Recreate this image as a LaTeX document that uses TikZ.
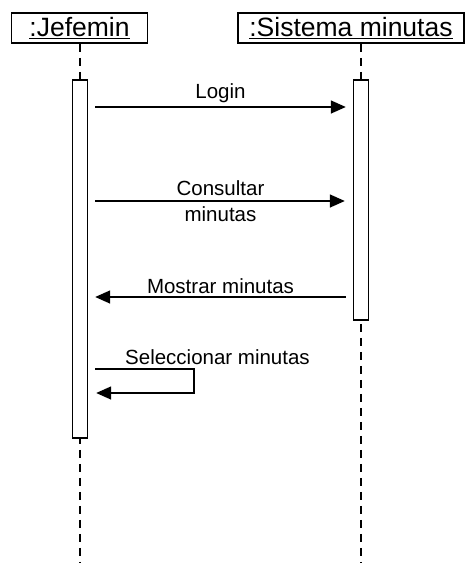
\documentclass[tikz,border=0pt]{standalone}
\usepackage{fontspec}
\setmainfont{Liberation Sans}
\usetikzlibrary{
    arrows.meta,
    positioning,
    calc
}

\begin{document}
\begin{tikzpicture}[
        x=1pt, y=-1pt,
        object/.style={
            rectangle,
            draw,
            line width=1.6pt,
            minimum height=30pt,
            inner sep=0pt,
            font=\fontsize{26.5}{30}\selectfont
        },
        activation/.style={
            rectangle,
            draw,
            fill=white,
            line width=1.4pt,
            minimum width=15pt,
            inner sep=0pt
        },
        lifeline/.style={
            line width=1.7pt,
            dash pattern=on 8pt off 6pt
        },
        msg/.style={
            -{Triangle[length=15pt,width=13pt]},
            line width=1.5pt
        },
        label/.style={
            font=\fontsize{20.5}{24}\selectfont,
            inner sep=1pt
        }
    ]

    \useasboundingbox (0,0) rectangle (476,563);

    \node[object, minimum width=136pt] (jefe) at (79.5,28)
        {\underline{:Jefemin}};

    \node[object, minimum width=226pt] (sistema) at (351,28)
        {\underline{:Sistema minutas}};

    \coordinate (jefeEnd) at (80,563);
    \coordinate (sistemaEnd) at (361,563);

    \draw[lifeline] (jefe.south -| jefeEnd) -- (jefeEnd);
    \draw[lifeline] (sistema.south -| sistemaEnd) -- (sistemaEnd);

    \node[activation, minimum height=358pt] (actJefe) at (80,259) {};
    \node[activation, minimum height=240pt] (actSistema) at (361,200) {};

    % Login
    \draw[msg, shorten <=7pt, shorten >=7pt]
        (actJefe.east |- 0,107) -- (actSistema.west |- 0,107)
        node[label, midway, above=2pt] (login) {Login};

    % Consultar minutas
    \draw[msg, shorten <=7pt, shorten >=8pt]
        (actJefe.east |- 0,201) -- (actSistema.west |- 0,201)
        node[label, midway, above=4pt] (consultar) {Consultar}
        node[label, midway, below=4pt] (minutas) {minutas};

    % Mostrar minutas
    \draw[msg, shorten <=7pt, shorten >=7pt]
        (actSistema.west |- 0,297) -- (actJefe.east |- 0,297)
        node[label, midway, above=2pt] (mostrar) {Mostrar minutas};

    % Seleccionar minutas
    \draw[msg, shorten <=7pt, shorten >=8pt]
        (actJefe.east |- 0,369) -- (194,369) -- (194,393)
        -- (actJefe.east |- 0,393);
    \node[label, anchor=south west] (seleccionar) at (124,366)
        {Seleccionar minutas};

\end{tikzpicture}
\end{document}
